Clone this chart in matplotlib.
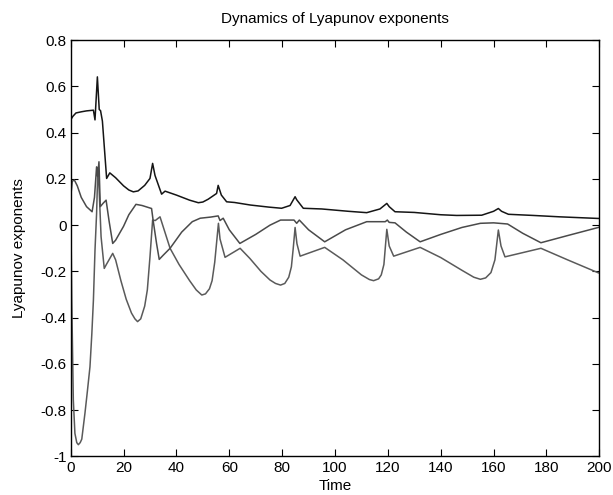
import matplotlib
matplotlib.use("Agg")
import matplotlib.pyplot as plt
import numpy as np

plt.rcParams['font.family'] = ['Liberation Sans', 'DejaVu Sans']

t1 = [0, 0.8, 2, 4, 6, 8.6, 9.2, 10.1, 10.8, 11.3, 12, 13.6, 14.8, 17, 20, 22, 23.7, 25.5, 28, 30, 31, 31.9,
      34.4, 35.7, 40, 45, 48.3, 50, 52, 55.2, 55.8, 57, 59, 62, 68, 75, 79.8, 83, 84.9, 85.5, 88, 95, 105,
      112, 117, 119.6, 120.5, 122.7, 130, 140, 146, 155.5, 160, 161.8, 163, 165.6, 175, 185, 199.6, 200]
l1 = [0.455, 0.47, 0.485, 0.49, 0.494, 0.497, 0.455, 0.641, 0.50, 0.495, 0.45, 0.202, 0.226, 0.205, 0.17,
      0.152, 0.144, 0.148, 0.172, 0.202, 0.267, 0.215, 0.134, 0.147, 0.13, 0.108, 0.097, 0.1, 0.112, 0.137,
      0.172, 0.13, 0.101, 0.098, 0.087, 0.078, 0.073, 0.085, 0.123, 0.11, 0.073, 0.07, 0.06, 0.054, 0.07,
      0.094, 0.08, 0.058, 0.055, 0.045, 0.042, 0.043, 0.06, 0.072, 0.06, 0.047, 0.042, 0.036, 0.029, 0.029]

t2 = [0, 0.6, 1.4, 2.5, 4, 6, 8.1, 9, 9.8, 10.2, 10.7, 11.2, 12.3, 13.4, 14.5, 15.9, 17, 18.5, 20, 22, 24.7,
      27, 30.6, 31.2, 32.5, 33.5, 35, 37.6, 42, 46, 49, 53, 55.8, 56.5, 57.7, 60, 64, 70, 75.4, 79.4,
      84.5, 85.5, 86.5, 90, 96.1, 104, 112, 119, 119.8, 120.5, 122.7, 127, 132.2, 140, 148, 155, 160,
      165.3, 171, 177.9, 188, 199.6, 200]
l2 = [0.12, 0.19, 0.195, 0.17, 0.12, 0.08, 0.058, 0.12, 0.252, 0.21, 0.274, 0.08, 0.095, 0.108, 0.02,
      -0.079, -0.065, -0.035, -0.005, 0.045, 0.09, 0.085, 0.072, 0.02, -0.08, -0.148, -0.13, -0.1, -0.03,
      0.015, 0.03, 0.035, 0.04, 0.02, 0.03, -0.02, -0.079, -0.04, 0.0, 0.022, 0.022, 0.008, 0.022, -0.02,
      -0.072, -0.02, 0.015, 0.015, 0.022, 0.012, 0.01, -0.03, -0.072, -0.04, -0.01, 0.008, 0.01, 0.005,
      -0.035, -0.076, -0.045, -0.01, -0.008]

t3 = [0, 0.4, 1.0, 1.6, 2.3, 2.9, 3.6, 4.2, 5.4, 6.3, 7.3, 8, 8.6, 9.2, 9.8, 10.3, 10.6, 11.5, 12.7,
      13.5, 15.9, 17, 19, 21, 23, 24.3, 25.3, 26.5, 28, 29, 30, 31, 32, 33.8, 37.6, 41, 45, 47.5, 49.6,
      51, 52.5, 53.5, 54.5, 55.9, 56.5, 58.4, 64.1, 67.8, 72, 75.4, 77.5, 79.4, 81, 82.5, 83.5, 84.2,
      84.9, 85.6, 86.8, 96.1, 103, 110, 113, 114.6, 116.5, 117.5, 118.5, 119.6, 120.5, 122.2, 132.2,
      140, 148, 152.5, 155, 157, 159, 160.5, 161.8, 162.8, 164.3, 177.9, 188, 199.6, 200]
l3 = [0.12, -0.32, -0.756, -0.9, -0.94, -0.949, -0.94, -0.925, -0.813, -0.72, -0.612, -0.47, -0.324,
      -0.108, 0.05, 0.25, 0.2, -0.05, -0.187, -0.17, -0.122, -0.15, -0.24, -0.32, -0.38, -0.405, -0.417,
      -0.405, -0.35, -0.28, -0.137, 0.022, 0.02, 0.036, -0.1, -0.17, -0.24, -0.28, -0.302, -0.297, -0.275,
      -0.24, -0.16, 0.008, -0.06, -0.139, -0.1, -0.144, -0.2, -0.237, -0.252, -0.259, -0.252, -0.225,
      -0.18, -0.1, -0.01, -0.08, -0.134, -0.096, -0.15, -0.215, -0.235, -0.24, -0.232, -0.215, -0.17,
      -0.018, -0.09, -0.134, -0.096, -0.14, -0.195, -0.225, -0.234, -0.228, -0.205, -0.15, -0.021, -0.09,
      -0.137, -0.1, -0.15, -0.206, -0.207]

xticks = list(range(0, 201, 20))
yticks = [-1, -0.8, -0.6, -0.4, -0.2, 0, 0.2, 0.4, 0.6, 0.8]
yticklabels = ['-1', '-0.8', '-0.6', '-0.4', '-0.2', '0', '0.2', '0.4', '0.6', '0.8']

fig = plt.figure(figsize=(6.13, 4.95), dpi=100)
ax = fig.add_axes([0.1153, 0.0778, 0.8624, 0.8412])
ax.plot(t3, l3, color='#5a5a5a', lw=1.1)
ax.plot(t2, l2, color='#4a4a4a', lw=1.1)
ax.plot(t1, l1, color='#151515', lw=1.1)

ax.set_xlim(0, 200)
ax.set_ylim(-1, 0.8)
ax.set_xticks(xticks)
ax.set_yticks(yticks)
ax.set_yticklabels(yticklabels)
ax.tick_params(direction='in', top=True, right=True, length=5, width=0.8,
               labelsize=11, pad=3, colors='black')
for s in ax.spines.values():
    s.set_linewidth(1.0)
ax.set_title('Dynamics of Lyapunov exponents', fontsize=11, pad=12)
ax.set_xlabel('Time', fontsize=11, labelpad=3)
ax.set_ylabel('Lyapunov exponents', fontsize=11, labelpad=10)

fig.savefig('out.png', dpi=100)
